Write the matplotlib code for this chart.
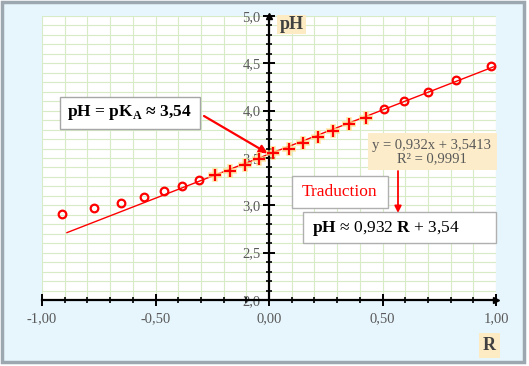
import matplotlib
matplotlib.use("Agg")
import matplotlib.pyplot as plt
from matplotlib.patches import Rectangle
from matplotlib.ticker import MultipleLocator, FuncFormatter
import numpy as np

# Data
R_out = [-0.913, -0.770, -0.652, -0.551, -0.464, -0.383, -0.310,
         0.507, 0.596, 0.699, 0.822, 0.977]
pH_out = [2.908, 2.968, 3.024, 3.084, 3.148, 3.204, 3.264,
          4.014, 4.101, 4.193, 4.320, 4.471]
R_lin = [-0.238, -0.172, -0.104, -0.045, 0.019, 0.088, 0.148,
         0.214, 0.280, 0.351, 0.427]
pH_lin = [3.317, 3.365, 3.422, 3.492, 3.549, 3.598, 3.661,
          3.724, 3.785, 3.855, 3.922]
slope, intercept = 0.932, 3.5413
fit_range = [-0.89, 0.99]

W, H = 529, 366
plt.rcParams["mathtext.fontset"] = "custom"
plt.rcParams["mathtext.rm"] = "Liberation Serif"
plt.rcParams["mathtext.bf"] = "Liberation Serif:bold"
serif = ["Liberation Serif", "DejaVu Serif"]


def px(x, y):
    # pixel position -> figure fraction
    return (x / W, 1 - y / H)


def box(x0, y0, x1, y1, fc, ec="none", z=5):
    fig.patches.append(Rectangle(px(x0, y1), (x1 - x0) / W, (y1 - y0) / H,
                                 transform=fig.transFigure, facecolor=fc,
                                 edgecolor=ec, lw=1, zorder=z))


fig = plt.figure(figsize=(W / 100, H / 100), dpi=100, facecolor="white")
box(1.5, 2, 523.5, 362, "#e7f6fd", "#9ca7b0", z=-1)
fig.patches[-1].set_linewidth(2.5)

ax = fig.add_axes([42 / W, 1 - 300 / H, 454 / W, 284 / H])
ax.set_facecolor("white")
ax.set_xlim(-1, 1)
ax.set_ylim(2, 5)

# grid
ax.xaxis.set_major_locator(MultipleLocator(0.5))
ax.xaxis.set_minor_locator(MultipleLocator(0.1))
ax.yaxis.set_major_locator(MultipleLocator(0.5))
ax.yaxis.set_minor_locator(MultipleLocator(0.1))
ax.grid(True, which="both", color="#d6ebc6", lw=0.8)
ax.set_axisbelow(True)

# spines
for s in ["top", "right"]:
    ax.spines[s].set_visible(False)
ax.spines["left"].set_position(("data", 0))
ax.spines["left"].set_linewidth(1.6)
ax.spines["bottom"].set_linewidth(1.6)
ax.plot(1, 2, ">", color="black", ms=5, clip_on=False)
ax.plot(0, 5, "^", color="black", ms=5, clip_on=False)

ax.tick_params(which="major", direction="inout", length=8, width=1.4,
               colors="black", labelcolor="#595959", labelsize=10.5)
ax.tick_params(which="minor", direction="inout", length=5, width=1.2)
ax.tick_params(axis="x", pad=5)
ax.tick_params(axis="y", pad=2)
ax.xaxis.set_major_formatter(FuncFormatter(lambda v, p: f"{v:.2f}".replace(".", ",")))
ax.yaxis.set_major_formatter(FuncFormatter(lambda v, p: f"{v:.1f}".replace(".", ",")))
for lab in ax.get_xticklabels() + ax.get_yticklabels():
    lab.set_family(serif)

# trend line
xs = np.array(fit_range)
ax.plot(xs, slope * xs + intercept, color="red", lw=1.0, zorder=3)

# points
ax.plot(R_out, pH_out, "o", ms=5.5, mfc="none", mec="red", mew=1.6, zorder=4)
ax.plot(R_lin, pH_lin, "+", ms=10, mec="#ffe08a", mew=4, alpha=0.7, zorder=4)
ax.plot(R_lin, pH_lin, "+", ms=9, mec="red", mew=1.6, zorder=5)

# axis names
box(277, 15, 306, 34, "#fdebc4")
fig.text(*px(291.5, 24.5), "pH", ha="center", va="center", family=serif,
         fontsize=13, fontweight="bold", color="#404040", zorder=6)
box(479, 333, 500, 358, "#fdebc4")
fig.text(*px(489.5, 346), "R", ha="center", va="center", family=serif,
         fontsize=13, fontweight="bold", color="#404040", zorder=6)

# pKa box and arrow
box(60, 97, 200, 129, "white", "#a6a6a6")
fig.text(*px(129, 113), r"pH = pK$_\mathbf{A}$ ≈ 3,54", ha="center", va="center",
         family=serif, fontsize=12.5, fontweight="bold", color="black", zorder=6)
ax.annotate("", xy=(0, intercept), xycoords="data",
            xytext=px(204, 116), textcoords="figure fraction",
            arrowprops=dict(arrowstyle="-|>", color="red", lw=1.6,
                            mutation_scale=12, shrinkA=0, shrinkB=1))

# trendline label
box(368, 133, 497, 170, "#fcecc9")
fig.text(*px(432, 152), "y = 0,932x + 3,5413\nR² = 0,9991", ha="center",
         va="center", family=serif, fontsize=10.5, color="#595959",
         linespacing=1.05, zorder=6)
ax.annotate("", xy=px(398, 213), xycoords="figure fraction",
            xytext=px(398, 171), textcoords="figure fraction",
            arrowprops=dict(arrowstyle="-|>", color="red", lw=1.3,
                            mutation_scale=10, shrinkA=0, shrinkB=0))

box(292, 176, 388, 208, "white", "#b0b0b0")
fig.text(*px(339, 192), "Traduction", ha="center", va="center", family=serif,
         fontsize=12.5, color="red", zorder=6)
box(303, 212, 496, 243, "white", "#b0b0b0")
fig.text(*px(312, 228), r"$\mathbf{pH}$ ≈ 0,932 $\mathbf{R}$ + 3,54", ha="left",
         va="center", family=serif, fontsize=12.5, color="black", zorder=6)

fig.savefig("out.png", dpi=100, facecolor=fig.get_facecolor())
